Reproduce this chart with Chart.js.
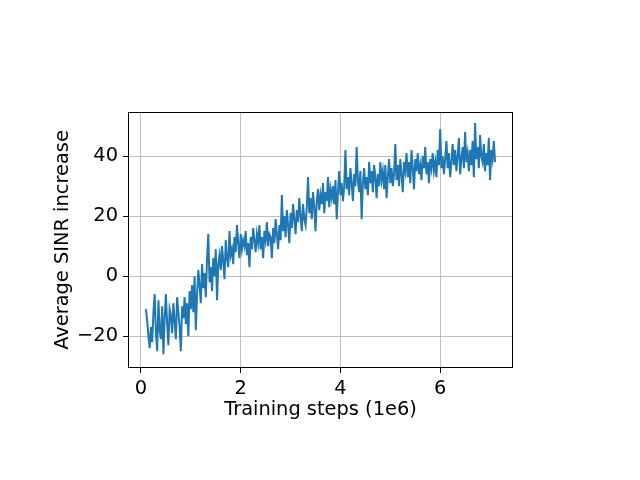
<!DOCTYPE html>
<html>
<head>
<meta charset="utf-8">
<script src="https://cdn.jsdelivr.net/npm/chart.js@4.4.1/dist/chart.umd.min.js"></script>
<style>
html,body{margin:0;padding:0;background:#fff}
#wrap{width:640px;height:480px}
</style>
</head>
<body>
<div id="wrap"><canvas id="chart" width="640" height="480"></canvas></div>
<script>
// training steps in units of 1e6, sampled every 0.025 from 0.1
const stepStart = 0.1
const stepSize = 0.025

const sinrIncrease = [
-11,-15,-20,-24,-17,-22,-12,-6,-19,-25,
-8,-18,-21,-10,-26,-14,-6,-16,-23,-11,
-13,-19,-9,-15,-21,-7,-12,-17,-25,-10,
-14,-7,-16,-9,-20,-5,-11,-3,-12,0,
-18,-6,2,-3,-9,4,-4,1,-7,6,
14,-2,3,-5,6,0,9,-8,4,7,
2,10,5,-1,12,6,3,15,7,9,
4,13,8,17,11,6,14,9,12,10,
15,7,11,3,13,9,16,12,8,14,
11,17,9,13,6,15,12,18,10,14,
13,6,16,11,19,14,9,17,12,27,
15,20,13,22,17,11,21,16,24,19,
14,22,18,26,20,15,24,19,17,23,
33,21,26,19,28,23,15,25,29,22,
27,24,31,21,28,25,33,23,29,26,
30,24,32,19,28,35,27,31,25,30,
42,29,33,27,36,31,25,34,30,43,
32,28,35,19,31,36,29,33,27,38,
31,35,28,37,33,26,34,30,38,32,
35,29,37,26,33,39,31,36,30,34,
44,32,37,30,39,34,28,38,35,41,
33,38,31,42,36,29,39,35,41,34,
37,32,40,36,43,34,38,31,39,36,
41,35,38,33,42,37,49,36,40,34,
39,45,36,41,33,38,44,37,42,35,
40,46,34,39,43,36,48,38,41,35,
42,37,45,33,51,39,43,36,47,40,
38,44,35,41,37,46,32,42,39,45,
38
]

const xTicks = [0,2,4,6]
const yTicks = [-20,0,20,40]

const points = sinrIncrease.map((v,i)=>({x: stepStart + i*stepSize, y: v}))

const fontFamily = "'DejaVu Sans', sans-serif"
const fontSize = 19.4

const frame = {
id:"frame",
afterDraw(chart){
const {ctx, chartArea:a} = chart
ctx.save()
ctx.strokeStyle="#000"
ctx.lineWidth=1
ctx.strokeRect(Math.round(a.left)+0.5, Math.round(a.top)+0.5, Math.round(a.right-a.left)-1, Math.round(a.bottom-a.top)-1)
ctx.restore()
}
}

const chart = new Chart(
document.getElementById("chart"),
{
type:"line",
data:{
datasets:[{
label:"SINR",
data: points,
borderColor:"#1f77b4",
borderWidth:2,
pointRadius:0,
tension:0,
fill:false
}]
},
options:{
responsive:false,
animation:false,
layout:{padding:{top:112,right:127,left:0,bottom:0}},
plugins:{legend:{display:false},tooltip:{enabled:false}},
scales:{
x:{
type:"linear",
min:-0.26,
max:7.46,
afterBuildTicks(s){ s.ticks = xTicks.map(v=>({value:v})) },
afterFit(s){ s.height = 112 },
grid:{color:"#b0b0b0",lineWidth:0.8,tickLength:5,tickColor:"#000",tickWidth:1},
border:{display:false},
ticks:{color:"#000",font:{family:fontFamily,size:fontSize},padding:4,maxRotation:0},
title:{display:true,text:"Training steps (1e6)",color:"#000",font:{family:fontFamily,size:fontSize},padding:{top:0,bottom:58.4}}
},
y:{
type:"linear",
min:-30.6,
max:54.7,
afterBuildTicks(s){ s.ticks = yTicks.map(v=>({value:v})) },
afterFit(s){ s.width = 128 },
grid:{color:"#b0b0b0",lineWidth:0.8,tickLength:5,tickColor:"#000",tickWidth:1},
border:{display:false},
ticks:{color:"#000",font:{family:fontFamily,size:fontSize},padding:5,
callback:v=>String(v).replace("-","\u2212")},
title:{display:true,text:"Average SINR increase",color:"#000",font:{family:fontFamily,size:fontSize},padding:{top:51.4,bottom:0}}
}
}
},
plugins:[frame]
})
</script>
</body>
</html>
